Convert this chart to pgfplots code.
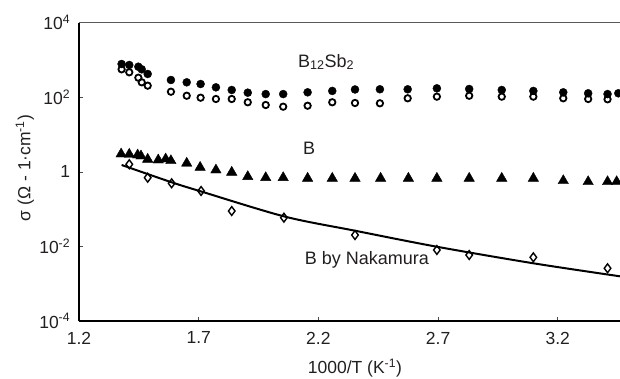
\documentclass[border=0pt]{standalone}
\usepackage{fontspec}
\setmainfont{Liberation Sans}
\usepackage{pgfplots}
\pgfplotsset{compat=1.18}
\definecolor{txt}{RGB}{35,31,32}
\begin{document}
\begin{tikzpicture}
\fontsize{17}{20}\selectfont
\begin{axis}[
  scale only axis, width=541pt, height=298.3pt,
  at={(0,0)}, anchor=south west,
  ymode=log, log basis y=10,
  xmin=1.2, xmax=3.46, ymin=1e-4, ymax=1e4,
  axis x line*=bottom, axis y line*=left,
  axis line style={line width=1.6pt, black},
  tick align=inside, major tick length=4pt,
  tick style={line width=0.6pt, black!70},
  xtick={1.2,1.7,2.2,2.7,3.2},
  xticklabels={1.2,1.7,2.2,2.7,3.2},
  ytick={1e-4,1e-2,1,1e2,1e4},
  yticklabels={10\textsuperscript{-4},10\textsuperscript{-2},1,10\textsuperscript{2},10\textsuperscript{4}},
  yminorticks=false, xminorticks=false,
  ticklabel style={font=\fontsize{17.5}{20}\selectfont, text=txt},
  xticklabel shift=5pt, yticklabel shift=3pt,
  xlabel={1000/T (K\textsuperscript{-1})},
  ylabel={σ (Ω - 1·cm\textsuperscript{-1})},
  every axis x label/.style={at={(axis description cs:0.51,-0.158)},anchor=center,font=\fontsize{17.5}{20}\selectfont, text=txt},
  every axis y label/.style={at={(axis description cs:-0.1,0.513)},rotate=90,anchor=center,font=\fontsize{17.5}{20}\selectfont, text=txt},
  clip=false,
]
% B12Sb2 filled circles
\addplot[only marks, mark=*, mark size=4pt, black] coordinates {
(1.378,782) (1.410,735) (1.448,661) (1.462,562) (1.487,422) (1.584,291)
(1.650,252) (1.708,227) (1.772,185) (1.838,157) (1.905,133) (1.980,122)
(2.053,122) (2.155,136) (2.258,148) (2.353,162) (2.457,164) (2.573,164)
(2.695,174) (2.830,167) (2.966,157) (3.098,148) (3.223,136) (3.327,128)
(3.408,122) (3.453,128)};
% B12Sb2 open circles
\addplot[only marks, mark=o, mark size=3.2pt, mark options={line width=1.8pt}, black] coordinates {
(1.378,562) (1.410,468) (1.448,335) (1.462,252) (1.487,205) (1.584,141)
(1.650,110) (1.708,97.5) (1.772,90) (1.838,90) (1.905,73.5) (1.980,62.1)
(2.053,56.0) (2.155,59.4) (2.258,73.5) (2.353,70.3) (2.457,69.0) (2.573,94.0)
(2.695,104) (2.830,110) (2.966,104) (3.098,104) (3.223,94) (3.327,90)
(3.408,88.3)};
% B triangles
\addplot[only marks, mark=triangle*, mark size=6pt, black] coordinates {
(1.376,3.01) (1.410,2.96) (1.445,2.83) (1.459,2.66) (1.487,2.17) (1.531,2.08)
(1.562,2.21) (1.584,1.99) (1.650,1.70) (1.706,1.32) (1.772,1.12) (1.838,0.973)
(1.905,0.743) (1.980,0.698) (2.053,0.698) (2.155,0.671) (2.258,0.671) (2.353,0.671)
(2.460,0.671) (2.576,0.671) (2.695,0.671) (2.830,0.671) (2.966,0.671) (3.098,0.671)
(3.223,0.579) (3.327,0.544) (3.408,0.544) (3.446,0.544)};
% Nakamura diamonds
\addplot[only marks, mark=diamond, mark size=4.4pt, mark options={line width=1.4pt}, black] coordinates {
(1.410,1.60) (1.487,0.697) (1.587,0.493) (1.710,0.307) (1.838,0.0891)
(2.056,0.0590) (2.353,0.0202) (2.695,0.00802) (2.830,0.00589) (3.098,0.00511)
(3.408,0.00259)};
% fit line
\addplot[no marks, smooth, line width=2pt, black] coordinates {
(1.378,1.53) (1.587,0.525) (1.713,0.294) (2.060,0.0631) (2.353,0.0264)
(2.694,0.00984) (3.098,0.00353) (3.46,0.00158)};
\draw[black!65, line width=0.9pt] (rel axis cs:0,1) -- (rel axis cs:1,1);
\node[text=txt, font=\fontsize{18}{20}\selectfont] at (axis cs:2.232,883) {B\textsubscript{12}Sb\textsubscript{2}};
\node[text=txt, font=\fontsize{18}{20}\selectfont] at (axis cs:2.161,4.37) {B};
\node[text=txt, font=\fontsize{18}{20}\selectfont] at (axis cs:2.403,0.00432) {B by Nakamura};
\end{axis}
\pgfresetboundingbox
\useasboundingbox (-79pt,-57pt) rectangle (541pt,321pt);
\end{tikzpicture}
\end{document}
